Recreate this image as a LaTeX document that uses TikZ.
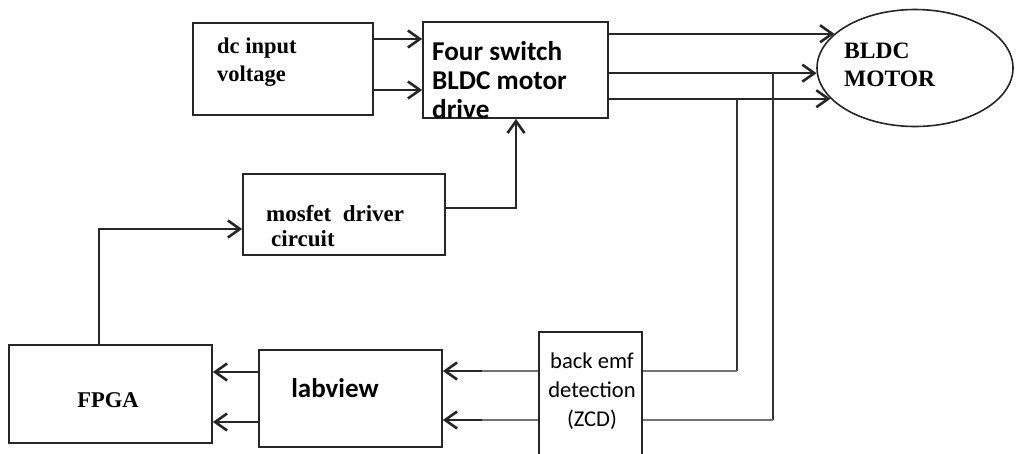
\documentclass[tikz,border=0pt]{standalone}
\usepackage{fontspec}
\setmainfont{Liberation Serif}
\newfontfamily\calfont{Carlito}
\usetikzlibrary{arrows.meta, shapes.geometric, calc}

\tikzset{
  blk/.style={draw=black!85, line width=1.7pt, rectangle, inner sep=0pt},
  serlbl/.style={font=\fontsize{22.5}{28}\selectfont\bfseries, inner sep=0pt, align=left},
  callbl/.style={font=\calfont\fontsize{27.2}{29}\selectfont\bfseries, inner sep=0pt, align=left},
  arr/.style={line width=1.6pt, draw=black!85,
    -{Straight Barb[length=12pt, width=17pt, line width=2.6pt]}},
  wire/.style={line width=1.6pt, draw=black!80},
  fb/.style={line width=1.3pt, draw=black!55}
}

\begin{document}
\begin{tikzpicture}[x=1pt, y=-1pt]

    % frame of the picture (pixel coordinates, y downwards)
    \useasboundingbox (0,0) rectangle (1016,453);

    % ---------------- blocks ----------------
    \node[blk, minimum width=180pt, minimum height=92pt] (dc) at (283,69) {};
    \node[blk, minimum width=185pt, minimum height=96pt] (four) at (515.5,70) {};
    \node[draw=black!85, line width=1.6pt, ellipse, minimum width=196pt,
          minimum height=117pt, inner sep=0pt] (motor) at (915,68) {};
    \node[blk, minimum width=202pt, minimum height=81pt] (mos) at (344,214.5) {};
    \node[blk, minimum width=203pt, minimum height=98pt] (fpga) at (110.5,394) {};
    \node[blk, minimum width=183pt, minimum height=97pt] (lab) at (350.5,398.5) {};
    \node[blk, minimum width=103pt, minimum height=135pt] (emf) at (590.5,399.5) {};

    % ---------------- texts ----------------
    \node[serlbl, anchor=west] (dctxt) at (217,62) {dc input\\voltage};
    \node[callbl, anchor=west] (fourtxt) at (432,80) {Four switch\\BLDC motor\\drive};
    \node[serlbl, font=\fontsize{23.5}{28}\selectfont\bfseries, anchor=west]
          (motortxt) at (844,65) {BLDC\\MOTOR};
    \node[serlbl, font=\fontsize{23}{25}\selectfont\bfseries, anchor=west]
          (mostxt) at (266,226) {mosfet~ driver\\\hspace{5pt}circuit};
    \node[serlbl] (fpgatxt) at (108,400) {FPGA};
    \node[callbl, font=\calfont\fontsize{27}{29}\selectfont\bfseries] (labtxt) at (335,388) {labview};
    \node[callbl, font=\calfont\fontsize{22.6}{29}\selectfont, align=center]
          (emftxt) at (592,391) {back emf\\detection\\(ZCD)};

    % ---------------- connectors ----------------
    % supply into the drive
    \draw[arr] (dc.east |- 0,39) -- (four.west |- 0,39);
    \draw[arr] (dc.east |- 0,90) -- (four.west |- 0,90);

    % drive outputs to the motor
    \draw[arr] (four.east |- motor.157) -- (motor.157);
    \draw[arr] (four.east |- motor.183) -- (motor.183);
    \draw[arr] (four.east |- motor.200) -- (motor.200);

    % sensing taps down to the back emf block
    \coordinate (tapA) at (737,0);
    \coordinate (tapB) at (773,0);
    \draw[wire] (tapA |- motor.200) -- (tapA |- 0,371);
    \draw[fb] (tapA |- 0,371) -- (emf.east |- 0,371);
    \draw[wire] (tapB |- motor.183) -- (tapB |- 0,420);
    \draw[fb] (tapB |- 0,420) -- (emf.east |- 0,420);

    % back emf to labview
    \coordinate (fbA) at (482,371);
    \coordinate (fbB) at (482,420);
    \draw[fb] (emf.west |- fbA) -- (fbA);
    \draw[arr] (fbA) -- (lab.east |- fbA);
    \draw[fb] (emf.west |- fbB) -- (fbB);
    \draw[arr] (fbB) -- (lab.east |- fbB);

    % labview to FPGA
    \draw[arr] (lab.west |- 0,372) -- (fpga.east |- 0,372);
    \draw[arr] (lab.west |- 0,422) -- (fpga.east |- 0,422);

    % FPGA to mosfet driver, driver to the drive
    \draw[arr] (fpga.north -| 99,0) |- (mos.west |- 0,229);
    \draw[arr] (mos.east |- 0,208) -| (four.south -| 516,0);

\end{tikzpicture}
\end{document}
